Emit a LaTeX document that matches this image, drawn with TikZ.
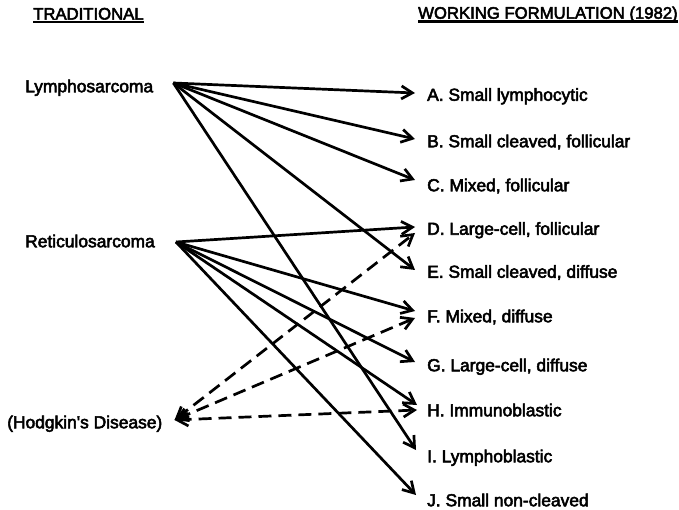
\documentclass[tikz,border=0pt]{standalone}
\usepackage{fontspec}
\newfontfamily\labfont{Liberation Sans}[FakeBold=3]
\usetikzlibrary{arrows.meta}
\tikzset{
  lab/.style={font=\labfont\fontsize{17.4}{20}\selectfont, inner sep=0pt, text height=12.5pt, text depth=0pt, anchor=west},
  hdr/.style={lab, font=\labfont\fontsize{16.7}{20}\selectfont},
  conn/.style={line width=2.7pt, -{Straight Barb[length=11pt,width=13pt,line width=2.7pt]}},
  dconn/.style={line width=2.7pt, {Straight Barb[length=11pt,width=13pt,line width=2.7pt]}-{Straight Barb[length=11pt,width=13pt,line width=2.7pt]}, dash pattern=on 13pt off 7pt},
  uline/.style={line width=2.2pt}
}
\begin{document}
\begin{tikzpicture}[x=1pt,y=-1pt]
\useasboundingbox (0,0) rectangle (679,510);
% headers
\node[hdr] (h1) at (33,13.3) {TRADITIONAL};
\node[hdr] (h2) at (418,12.5) {WORKING FORMULATION (1982)};
\draw[uline] ([yshift=-2.5pt]h1.south west) -- ([yshift=-2.5pt]h1.south east);
\draw[uline] ([yshift=-2.5pt]h2.south west) -- ([yshift=-2.5pt]h2.south east);
% left
\node[lab] (L) at (25,86) {Lymphosarcoma};
\node[lab] (R) at (25,241) {Reticulosarcoma};
\node[lab] (Hd) at (7,422) {(Hodgkin's Disease)};
% right
\node[lab] (A) at (427,94.5) {A. Small lymphocytic};
\node[lab] (B) at (427,141) {B. Small cleaved, follicular};
\node[lab] (C) at (427,185) {C. Mixed, follicular};
\node[lab] (D) at (427,228.5) {D. Large-cell, follicular};
\node[lab] (E) at (427,271.5) {E. Small cleaved, diffuse};
\node[lab] (F) at (427,316) {F. Mixed, diffuse};
\node[lab] (G) at (427,365) {G. Large-cell, diffuse};
\node[lab] (H) at (427,410) {H. Immunoblastic};
\node[lab] (I) at (427,456) {I. Lymphoblastic};
\node[lab] (J) at (427,500) {J. Small non-cleaved};
% Lymphosarcoma
\draw[conn] ([xshift=20pt,yshift=3pt]L.east) -- ([xshift=-12pt,yshift=1.5pt]A.west);
\draw[conn] ([xshift=20pt,yshift=3pt]L.east) -- ([xshift=-12pt,yshift=2pt]B.west);
\draw[conn] ([xshift=20pt,yshift=3pt]L.east) -- ([xshift=-12pt,yshift=5pt]C.west);
\draw[conn] ([xshift=20pt,yshift=3pt]L.east) -- ([xshift=-12pt,yshift=1.5pt]E.west);
\draw[conn] ([xshift=20pt,yshift=3pt]L.east) -- ([xshift=-11pt,yshift=6pt]I.west);
% Reticulosarcoma
\draw[conn] ([xshift=21pt,yshift=-1pt]R.east) -- ([xshift=-12pt,yshift=1.5pt]D.west);
\draw[conn] ([xshift=21pt,yshift=-1pt]R.east) -- ([xshift=-12pt,yshift=5pt]F.west);
\draw[conn] ([xshift=21pt,yshift=-1pt]R.east) -- ([xshift=-12pt,yshift=3pt]G.west);
\draw[conn] ([xshift=21pt,yshift=-1pt]R.east) -- ([xshift=-10pt,yshift=5pt]H.west);
\draw[conn] ([xshift=21pt,yshift=-1pt]R.east) -- ([xshift=-11pt,yshift=5pt]J.west);
% Hodgkin's
\draw[dconn] ([xshift=12pt,yshift=2pt]Hd.east) -- ([xshift=-12pt,yshift=-4.5pt]D.west);
\draw[dconn] ([xshift=12pt,yshift=2pt]Hd.east) -- ([xshift=-12pt,yshift=-2pt]F.west);
\draw[dconn] ([xshift=12pt,yshift=2pt]Hd.east) -- ([xshift=-10pt,yshift=0pt]H.west);
\end{tikzpicture}
\end{document}
